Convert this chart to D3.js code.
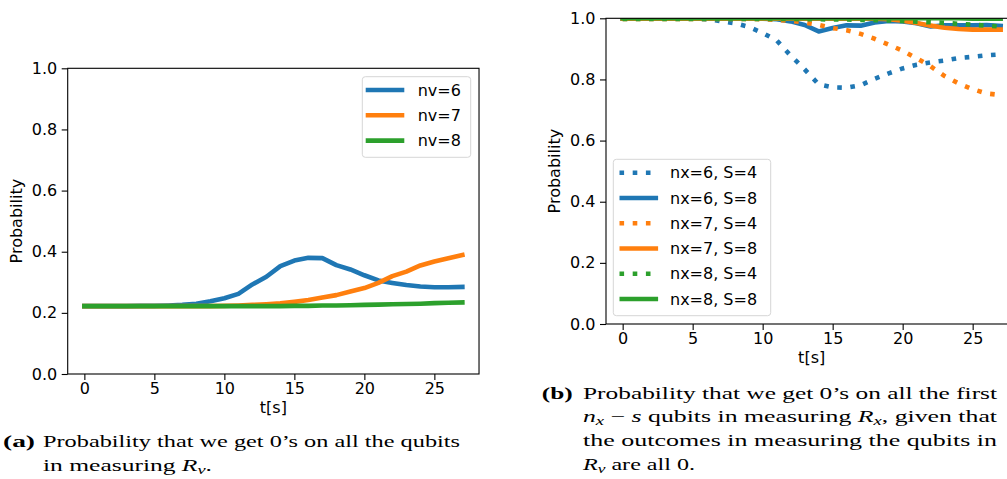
<!DOCTYPE html>
<html><head><meta charset="utf-8">
<script src="https://cdn.jsdelivr.net/npm/d3@7"></script>
<style>body{margin:0;background:#fff;overflow:hidden} svg{display:block}</style>
</head><body>
<svg id="c" width="1007" height="479"></svg>
<script>
// ---------- data ----------
const tValues = [0,1,2,3,4,5,6,7,8,9,10,11,12,13,14,15,16,17,18,19,20,21,22,23,24,25,26,27];

// panel (a)
const nv6 = [0.222,0.222,0.222,0.222,0.223,0.223,0.224,0.226,0.230,0.238,0.248,0.262,0.293,0.318,0.353,0.371,0.380,0.379,0.356,0.342,0.323,0.306,0.298,0.291,0.286,0.284,0.284,0.285];
const nv7 = [0.222,0.222,0.222,0.222,0.222,0.222,0.222,0.222,0.222,0.222,0.223,0.224,0.226,0.228,0.231,0.236,0.242,0.250,0.258,0.270,0.281,0.298,0.320,0.335,0.355,0.368,0.379,0.389];
const nv8 = [0.222,0.222,0.222,0.222,0.222,0.222,0.222,0.222,0.222,0.222,0.222,0.222,0.222,0.222,0.222,0.223,0.223,0.224,0.224,0.225,0.226,0.227,0.228,0.229,0.230,0.232,0.233,0.234];

// panel (b)
const nx6S4 = [0.999,0.999,0.999,0.999,0.999,0.999,0.997,0.991,0.984,0.972,0.952,0.928,0.878,0.833,0.784,0.774,0.773,0.781,0.802,0.820,0.836,0.848,0.856,0.862,0.870,0.874,0.879,0.882];
const nx6S8 = [0.999,0.999,0.999,0.999,0.999,0.999,0.999,0.999,0.999,0.999,0.999,0.997,0.990,0.978,0.957,0.968,0.977,0.976,0.986,0.991,0.990,0.984,0.973,0.977,0.977,0.977,0.978,0.975];
const nx7S4 = [0.998,0.998,0.998,0.998,0.998,0.998,0.998,0.998,0.998,0.998,0.997,0.995,0.992,0.986,0.978,0.968,0.961,0.949,0.933,0.914,0.894,0.869,0.843,0.811,0.787,0.768,0.754,0.749];
const nx7S8 = [0.999,0.999,0.999,0.999,0.999,0.999,0.999,0.999,0.999,0.999,0.999,0.999,0.999,0.999,0.999,0.999,0.999,0.999,0.999,0.997,0.992,0.985,0.976,0.969,0.965,0.963,0.963,0.963];
const nx8S4 = [0.998,0.998,0.998,0.998,0.998,0.998,0.998,0.998,0.998,0.998,0.998,0.998,0.998,0.997,0.997,0.996,0.996,0.995,0.994,0.993,0.991,0.989,0.987,0.985,0.982,0.979,0.976,0.973];
const nx8S8 = [1.000,1.000,1.000,1.000,1.000,1.000,1.000,1.000,1.000,1.000,1.000,1.000,1.000,1.000,1.000,1.000,1.000,1.000,1.000,1.000,1.000,1.000,1.000,1.000,1.000,0.999,0.999,0.999];

const xTicks = [0,5,10,15,20,25];
const yTicks = [0.0,0.2,0.4,0.6,0.8,1.0];
const xLabel = "t[s]";
const yLabel = "Probability";

const blue = "#1f77b4", orange = "#ff7f0e", green = "#2ca02c";

const seriesA = [
  {name:"nv=6", values:nv6, color:blue, dotted:false},
  {name:"nv=7", values:nv7, color:orange, dotted:false},
  {name:"nv=8", values:nv8, color:green, dotted:false}
];
const seriesB = [
  {name:"nx=6, S=4", values:nx6S4, color:blue, dotted:true},
  {name:"nx=6, S=8", values:nx6S8, color:blue, dotted:false},
  {name:"nx=7, S=4", values:nx7S4, color:orange, dotted:true},
  {name:"nx=7, S=8", values:nx7S8, color:orange, dotted:false},
  {name:"nx=8, S=4", values:nx8S4, color:green, dotted:true},
  {name:"nx=8, S=8", values:nx8S8, color:green, dotted:false}
];

// ---------- drawing ----------
const svg = d3.select("#c");
const FONT = "DejaVu Sans, sans-serif";
const LW = 4.6;
const DASH = "4.6 8.6";

function panel(id, box, series, legend) {
  const x = d3.scaleLinear().domain([-1.19, 28.19]).range([box.x0, box.x0 + 29.38*14]);
  const y = d3.scaleLinear().domain([0, 1]).range([box.y1, box.y0]);
  const g = svg.append("g");
  const w = x.range()[1] - box.x0, h = box.y1 - box.y0;

  svg.append("clipPath").attr("id", "clip"+id)
    .append("rect").attr("x", box.x0).attr("y", box.y0).attr("width", w).attr("height", h);

  const line = d3.line().x((d,i)=>x(tValues[i])).y(d=>y(d));
  const lg = g.append("g").attr("clip-path", `url(#clip${id})`);
  series.forEach(s => {
    lg.append("path").attr("d", line(s.values))
      .attr("fill","none").attr("stroke", s.color).attr("stroke-width", LW)
      .attr("stroke-linejoin","round")
      .attr("stroke-linecap", s.dotted ? "butt" : "square")
      .attr("stroke-dasharray", s.dotted ? DASH : null);
  });

  // axes
  const xa = g.append("g").attr("transform", `translate(0,${box.y1})`)
    .call(d3.axisBottom(x).tickValues(xTicks).tickSize(6).tickPadding(3).tickFormat(d3.format("d")));
  const ya = g.append("g").attr("transform", `translate(${box.x0},0)`)
    .call(d3.axisLeft(y).tickValues(yTicks).tickSize(6).tickPadding(4.5).tickFormat(d3.format(".1f")));
  [xa, ya].forEach(a => {
    a.select(".domain").remove();
    a.selectAll("line").attr("stroke","#000").attr("stroke-width",1.1);
    a.selectAll("text").attr("font-family", FONT).attr("font-size", 16).attr("fill","#000");
  });

  // spines
  g.append("rect").attr("x", box.x0).attr("y", box.y0).attr("width", w).attr("height", h)
    .attr("fill","none").attr("stroke","#000").attr("stroke-width",1.1);

  // labels
  g.append("text").attr("x", (box.x0 + box.x0 + w)/2).attr("y", box.y1 + 39)
    .attr("text-anchor","middle").attr("font-family",FONT).attr("font-size",16).text(xLabel);
  g.append("text").attr("transform", `translate(${box.x0 - 45.7},${(box.y0+box.y1)/2}) rotate(-90)`)
    .attr("text-anchor","middle").attr("font-family",FONT).attr("font-size",16).text(yLabel);

  // legend
  const L = g.append("g");
  L.append("rect").attr("x", legend.x).attr("y", legend.y).attr("width", legend.w).attr("height", legend.h)
    .attr("rx", 3).attr("fill","rgba(255,255,255,0.8)").attr("stroke","#d6d6d6").attr("stroke-width",1);
  series.forEach((s,i) => {
    const yy = legend.first + i*legend.step;
    L.append("line").attr("x1", legend.hx).attr("x2", legend.hx + 38.6).attr("y1", yy).attr("y2", yy)
      .attr("stroke", s.color).attr("stroke-width", LW)
      .attr("stroke-dasharray", s.dotted ? DASH : null);
    L.append("text").attr("x", legend.tx).attr("y", yy).attr("dy","0.36em")
      .attr("font-family",FONT).attr("font-size",16).text(s.name);
  });
}

panel("a", {x0:67.7, y0:68.3, y1:374}, seriesA,
  {x:362.3, y:76.7, w:108.4, h:80.6, hx:365.7, tx:417.7, first:90, step:25.3});
panel("b", {x0:606, y0:18.3, y1:324}, seriesB,
  {x:613.3, y:159.3, w:157.4, h:156.4, hx:619.5, tx:670, first:172.7, step:25.25});

// ---------- captions ----------
const SERIF = "Liberation Serif, Times New Roman, serif";
const CS = 17;
function cap(xp, yp, parts, len) {
  const t = svg.append("text").attr("x", xp).attr("y", yp)
    .attr("font-family", SERIF).attr("font-size", CS).attr("fill","#000");
  parts.forEach(p => {
    const ts = t.append("tspan").text(p.t);
    if (p.b) ts.attr("font-weight","bold");
    if (p.i) ts.attr("font-style","italic");
    if (p.sub) ts.attr("font-size", CS*0.72).attr("baseline-shift","-22%");
  });
  if (len) t.attr("textLength", len).attr("lengthAdjust","spacingAndGlyphs");
  return t;
}
cap(3, 447, [{t:"(a)", b:true}], 32);
cap(43, 447, [{t:"Probability that we get 0’s on all the qubits"}], 417);
cap(43, 471, [{t:"in measuring "},{t:"R",i:true},{t:"v",i:true,sub:true},{t:"."}], 169);

cap(541.7, 399, [{t:"(b)", b:true}], 31);
cap(583, 399, [{t:"Probability that we get 0’s on all the first"}], 414);
cap(583, 422, [{t:"n",i:true},{t:"x",i:true,sub:true},{t:" − "},{t:"s",i:true},{t:" qubits in measuring "},{t:"R",i:true},{t:"x",i:true,sub:true},{t:", given that"}], 414);
cap(583, 446, [{t:"the outcomes in measuring the qubits in"}], 414);
cap(583, 470, [{t:"R",i:true},{t:"v",i:true,sub:true},{t:" are all 0."}], 112);
</script>
</body></html>
